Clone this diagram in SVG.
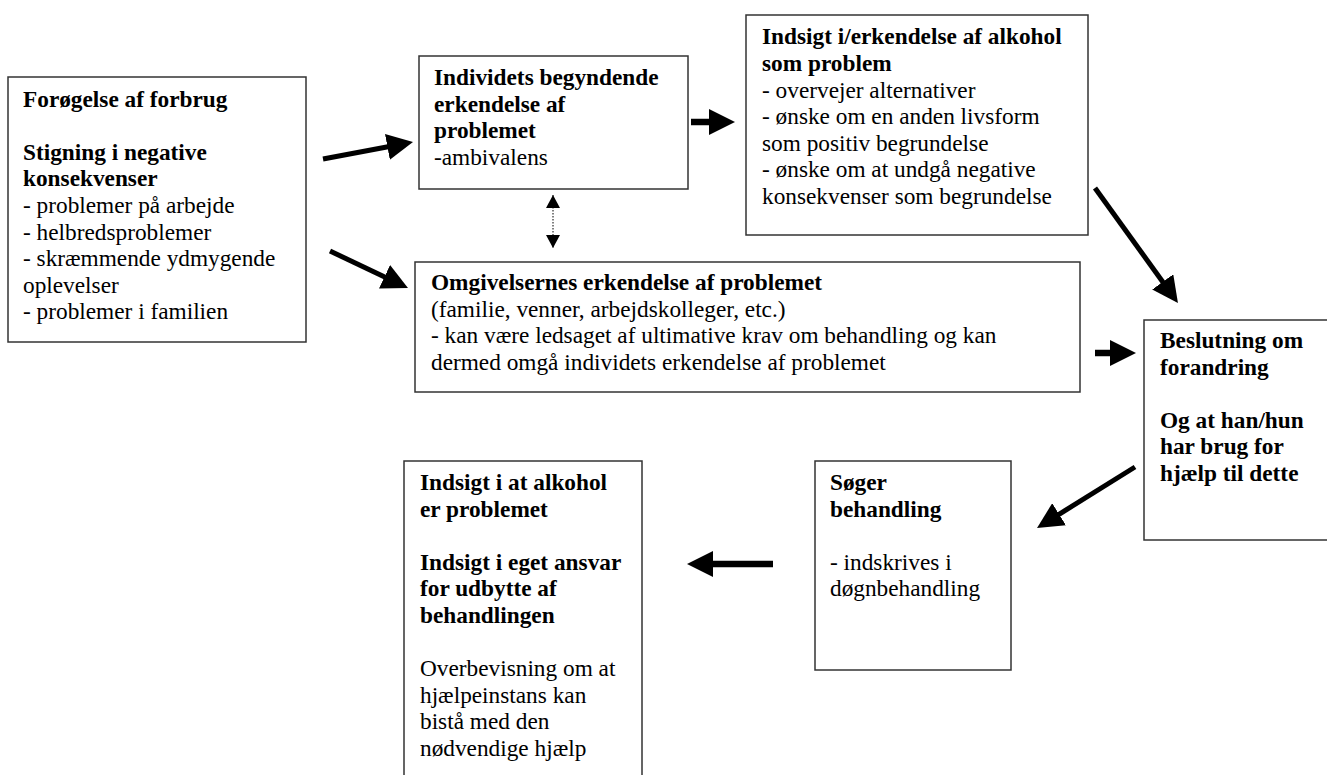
<svg xmlns="http://www.w3.org/2000/svg" width="1327" height="775" viewBox="0 0 1327 775">
<style>
.box{fill:#fff;stroke:#333;stroke-width:1.5}
text{font-family:"Liberation Serif","Times New Roman",serif;font-size:23.3px;fill:#000}
.b{font-weight:bold}
.arr{stroke:#000;stroke-width:5;fill:none;marker-end:url(#head)}
.arrh{stroke:#000;stroke-width:6.5;fill:none;marker-end:url(#head)}
.dot{stroke:#000;stroke-width:1;stroke-dasharray:1.5 1.5;fill:none;marker-start:url(#small);marker-end:url(#small)}
</style>
<defs>
<marker id="head" markerUnits="userSpaceOnUse" markerWidth="28" markerHeight="26" refX="2" refY="13" orient="auto">
<path d="M0,0 L26,13 L0,26 z" fill="#000"/>
</marker>
<marker id="small" markerUnits="userSpaceOnUse" markerWidth="14" markerHeight="14" refX="13" refY="7" orient="auto-start-reverse">
<path d="M0,0 L13,7 L0,14 z" fill="#000"/>
</marker>
</defs>

<g id="connectors">
<line class="arr" x1="323" y1="159" x2="389.4" y2="146.5"/>
<line class="arr" x1="330" y1="251" x2="386.3" y2="277.7"/>
<line class="arrh" x1="691" y1="122" x2="711" y2="122"/>
<line class="arr" x1="1095" y1="188" x2="1163.9" y2="283.5"/>
<line class="arrh" x1="1095" y1="353" x2="1112" y2="353"/>
<line class="arr" x1="1135" y1="467" x2="1057.4" y2="515.3"/>
<line class="arrh" x1="773" y1="564" x2="711" y2="564"/>
<line class="dot" x1="553" y1="195" x2="553" y2="248"/>
</g>

<g id="n-forogelse">
<rect class="box" x="8" y="77" width="298" height="265"/>
<text x="23" y="106.5" class="b">Forøgelse af forbrug</text>
<text x="23" y="159.7" class="b">Stigning i negative</text>
<text x="23" y="186.3" class="b">konsekvenser</text>
<text x="23" y="212.9">- problemer på arbejde</text>
<text x="23" y="239.5">- helbredsproblemer</text>
<text x="23" y="266.1">- skræmmende ydmygende</text>
<text x="23" y="292.7">oplevelser</text>
<text x="23" y="319.3">- problemer i familien</text>
</g>

<g id="n-individets">
<rect class="box" x="419" y="56" width="269" height="133"/>
<text x="434" y="85" class="b">Individets begyndende</text>
<text x="434" y="111.6" class="b">erkendelse af</text>
<text x="434" y="138.2" class="b">problemet</text>
<text x="434" y="164.8">-ambivalens</text>
</g>

<g id="n-indsigt-alkohol">
<rect class="box" x="746" y="15" width="342" height="220"/>
<text x="762" y="44.3" class="b">Indsigt i/erkendelse af alkohol</text>
<text x="762" y="70.9" class="b">som problem</text>
<text x="762" y="97.5">- overvejer alternativer</text>
<text x="762" y="124.1">- ønske om en anden livsform</text>
<text x="762" y="150.7">som positiv begrundelse</text>
<text x="762" y="177.3">- ønske om at undgå negative</text>
<text x="762" y="203.9">konsekvenser som begrundelse</text>
</g>

<g id="n-omgivelsernes">
<rect class="box" x="415" y="262" width="665" height="130"/>
<text x="431" y="290" class="b">Omgivelsernes erkendelse af problemet</text>
<text x="431" y="316.6">(familie, venner, arbejdskolleger, etc.)</text>
<text x="431" y="343.2">- kan være ledsaget af ultimative krav om behandling og kan</text>
<text x="431" y="369.8">dermed omgå individets erkendelse af problemet</text>
</g>

<g id="n-beslutning">
<rect class="box" x="1144" y="320" width="190" height="220"/>
<text x="1160" y="348" class="b">Beslutning om</text>
<text x="1160" y="374.6" class="b">forandring</text>
<text x="1160" y="427.8" class="b">Og at han/hun</text>
<text x="1160" y="454.4" class="b">har brug for</text>
<text x="1160" y="481" class="b">hjælp til dette</text>
</g>

<g id="n-soger">
<rect class="box" x="815" y="461" width="196" height="209"/>
<text x="830" y="490" class="b">Søger</text>
<text x="830" y="516.6" class="b">behandling</text>
<text x="830" y="569.8">- indskrives i</text>
<text x="830" y="596.4">døgnbehandling</text>
</g>

<g id="n-indsigt-ansvar">
<rect class="box" x="404" y="461" width="238" height="330"/>
<text x="420" y="490" class="b">Indsigt i at alkohol</text>
<text x="420" y="516.6" class="b">er problemet</text>
<text x="420" y="569.8" class="b">Indsigt i eget ansvar</text>
<text x="420" y="596.4" class="b">for udbytte af</text>
<text x="420" y="623" class="b">behandlingen</text>
<text x="420" y="676.2">Overbevisning om at</text>
<text x="420" y="702.8">hjælpeinstans kan</text>
<text x="420" y="729.4">bistå med den</text>
<text x="420" y="756">nødvendige hjælp</text>
</g>
</svg>
